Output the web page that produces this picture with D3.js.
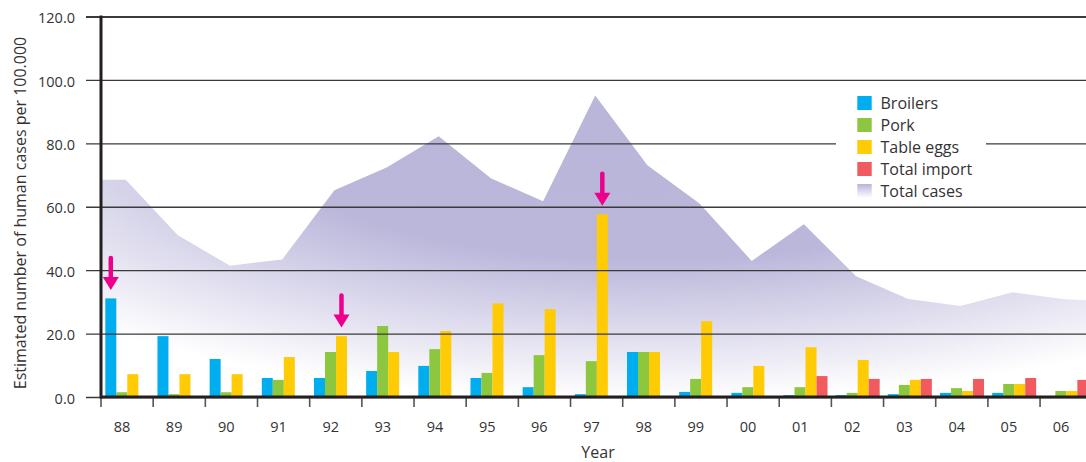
<!DOCTYPE html>
<html>
<head>
<meta charset="utf-8">
<script src="https://cdn.jsdelivr.net/npm/d3@7"></script>
<style>
  html, body { margin: 0; padding: 0; background: #fff; overflow: hidden; }
  svg { display: block; font-family: "Open Sans", "DejaVu Sans", sans-serif; }
</style>
</head>
<body>
<svg id="chart" width="1086" height="462"></svg>
<script>
// ---------- data ----------
const years = ["88","89","90","91","92","93","94","95","96","97","98","99","00","01","02","03","04","05","06"];
const broilers    = [31.1,19.2,12.0,6.0,6.0,8.2,9.8,6.0,3.1,0.9,14.2,1.6,1.3,0.6,0.6,0.9,1.3,1.3,0];
const pork        = [1.5,0.9,1.5,5.4,14.2,22.4,15.1,7.6,13.2,11.3,14.2,5.7,3.1,3.1,1.3,3.8,2.8,4.1,1.9];
const tableEggs   = [7.2,7.2,7.2,12.6,19.2,14.2,20.8,29.5,27.7,57.6,14.2,23.9,9.8,15.7,11.7,5.4,1.9,4.1,1.9];
const totalImport = [null,null,null,null,null,null,null,null,null,null,null,null,null,6.6,5.7,5.7,5.7,6.0,5.4];
const totalCases  = [68.5,51.0,41.4,43.4,65.2,72.4,82.2,69.0,61.7,95.1,73.1,61.0,42.9,54.5,38.1,30.9,28.7,33.0,30.8];
const seriesNames = ["Broilers","Pork","Table eggs","Total import"];
const seriesValues = [broilers, pork, tableEggs, totalImport];
const yTicks = [0,20,40,60,80,100,120];
const arrowMarks = [{year:"88", series:"Broilers"}, {year:"92", series:"Table eggs"}, {year:"97", series:"Table eggs"}];
const legendLabels = ["Broilers","Pork","Table eggs","Total import","Total cases"];

// ---------- styles ----------
const colors = {"Broilers":"#00aeef","Pork":"#8dc63f","Table eggs":"#ffcb05","Total import":"#f15b5f"};
const W = 1086, H = 462;
const left = 101, bandStep = 52.17;
const svg = d3.select("#chart");

const x = d3.scaleBand().domain(years).range([left, left + bandStep * years.length]).padding(0);
const inner = d3.scaleBand().domain(seriesNames).range([4.3, 48.3]).padding(0);
const y = d3.scaleLinear().domain([0,120]).range([397, 16.5]);

const defs = svg.append("defs");
const rg = defs.append("radialGradient").attr("id","areaGrad")
  .attr("gradientUnits","userSpaceOnUse")
  .attr("cx",650).attr("cy",130).attr("r",270).attr("fx",650).attr("fy",130)
  .attr("gradientTransform","translate(650,130) scale(3.04,1) translate(-650,-130)");
rg.append("stop").attr("offset","0").attr("stop-color","#bab6da");
rg.append("stop").attr("offset","0.48").attr("stop-color","#bbb7db");
rg.append("stop").attr("offset","1").attr("stop-color","#ffffff");

const lg = defs.append("linearGradient").attr("id","legGrad").attr("x1",0).attr("y1",0).attr("x2",0).attr("y2",1);
lg.append("stop").attr("offset","0").attr("stop-color","#b8b4da");
lg.append("stop").attr("offset","1").attr("stop-color","#ffffff");

// ---------- area (total cases) ----------
const areaPts = years.map((yr,i) => [x(yr) + 24.7, totalCases[i]]);
areaPts.unshift([x.range()[0], totalCases[0]]);
areaPts.push([W + 5, totalCases[totalCases.length-1] - 0.4]);
const area = d3.area().x(d => d[0]).y0(y(0)).y1(d => y(d[1]));
svg.append("path").datum(areaPts).attr("d", area).attr("fill","url(#areaGrad)");

// ---------- bars ----------
const barData = [];
years.forEach((yr,i) => seriesNames.forEach((s,j) => {
  const v = seriesValues[j][i];
  if (v != null && v > 0) barData.push({year: yr, series: s, value: v});
}));
svg.append("g").selectAll("rect").data(barData).join("rect")
  .attr("x", d => x(d.year) + inner(d.series))
  .attr("width", inner.bandwidth())
  .attr("y", d => y(d.value))
  .attr("height", d => y(0) - y(d.value))
  .attr("fill", d => colors[d.series]);

// ---------- y axis / grid ----------
const yAxis = d3.axisLeft(y).tickValues(yTicks).tickFormat(d3.format(".1f")).tickSize(15).tickPadding(11);
const gy = svg.append("g").attr("transform", `translate(${left},0)`).call(yAxis);
gy.select(".domain").remove();
gy.selectAll(".tick line").attr("x1", -15).attr("x2", W - left + 5)
  .attr("stroke", "#3a3a3a").attr("stroke-width", d => d === 120 ? 2.2 : 1.3);
gy.selectAll(".tick text").attr("font-size", 14.5).attr("fill", "#333").attr("dy", "0.32em").attr("y", 1.5)
  .attr("font-family", "'Open Sans', sans-serif");

// ---------- x axis ----------
const xAxis = d3.axisBottom(x).tickSize(9);
const gx = svg.append("g").attr("transform", `translate(0,${y(0)})`).call(xAxis);
gx.select(".domain").remove();
gx.selectAll(".tick").attr("transform", d => `translate(${x(d)},0)`);
gx.selectAll(".tick line").attr("y1", 1).attr("y2", 10).attr("stroke", "#555").attr("stroke-width", 1.6);
gx.selectAll(".tick text").attr("x", 21).attr("y", 35).attr("dy", 0).attr("font-size", 14.5).attr("fill", "#333")
  .attr("font-family", "'Open Sans', sans-serif");

// axis frame lines
svg.append("line").attr("x1", left).attr("x2", W + 5).attr("y1", y(0)).attr("y2", y(0))
  .attr("stroke", "#231f20").attr("stroke-width", 3);
svg.append("line").attr("x1", left).attr("x2", left).attr("y1", y(120) - 1).attr("y2", y(0) + 1.5)
  .attr("stroke", "#231f20").attr("stroke-width", 3);

// ---------- arrows ----------
const sIdx = s => seriesNames.indexOf(s);
const ag = svg.append("g");
arrowMarks.forEach(a => {
  const i = years.indexOf(a.year);
  const v = seriesValues[sIdx(a.series)][i];
  const cx = x(a.year) + inner(a.series) + inner.bandwidth() / 2;
  const tip = y(v) - 8.5;
  ag.append("line").attr("x1", cx).attr("x2", cx).attr("y1", tip - 32).attr("y2", tip - 10)
    .attr("stroke", "#ec008c").attr("stroke-width", 4.5).attr("stroke-linecap", "round");
  ag.append("path").attr("d", `M${cx-8},${tip-13}L${cx+8},${tip-13}L${cx},${tip}Z`).attr("fill", "#ec008c");
});

// ---------- legend ----------
const leg = svg.append("g");
leg.append("rect").attr("x", 836).attr("y", 86).attr("width", 150).attr("height", 114).attr("fill", "#fff");
legendLabels.forEach((lab, i) => {
  const ty = 96 + i * 22;
  leg.append("rect").attr("x", 857.3).attr("y", ty).attr("width", 14.4).attr("height", 14)
    .attr("fill", colors[lab] || "url(#legGrad)");
  leg.append("text").attr("x", 880.5).attr("y", ty + 13.3).text(lab)
    .attr("font-size", 16).attr("fill", "#333");
});

// ---------- titles ----------
svg.append("text").attr("x", 598).attr("y", 458).attr("text-anchor", "middle")
  .attr("font-size", 16).attr("fill", "#333").text("Year");
svg.append("text").attr("transform", "translate(26,213) rotate(-90)").attr("text-anchor", "middle")
  .attr("font-size", 16).attr("fill", "#333").text("Estimated number of human cases per 100.000");
</script>
</body>
</html>
